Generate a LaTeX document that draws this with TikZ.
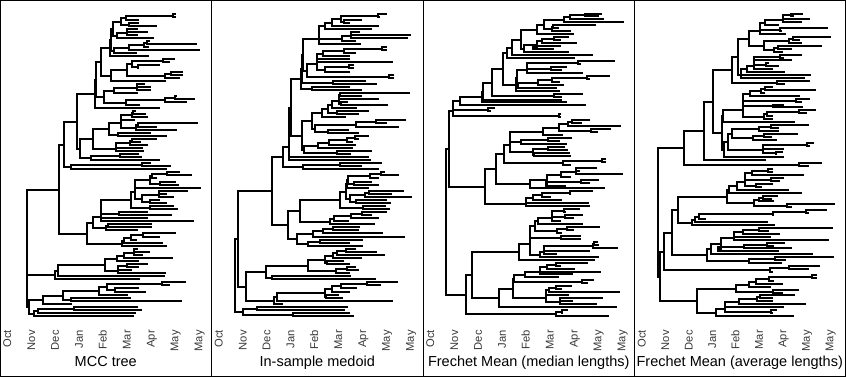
\documentclass[tikz,border=0pt]{standalone}
\usepackage{fontspec}
\setmainfont{Liberation Sans}
\newcount\tipcnt
\newcount\ntips
\def\rsstk{}
\def\rspush#1#2{\xdef\rsstk{{#1}{#2}\unexpanded\expandafter{\rsstk}}}
\def\rspopaux#1#2#3\relax{\gdef\rsy{#1}\gdef\rsx{#2}\gdef\rsstk{#3}}
\def\rspop{\expandafter\rspopaux\rsstk\relax}
\def\rscount#1#2\relax{\if t#1\global\advance\ntips by 1 \fi}
\def\rsproc#1#2\relax{%
  \pgfmathsetmacro\rsxx{round(#2/3+\rsoff)}%
  \if t#1%
    \pgfmathsetmacro\rsyy{round(13.5+\the\tipcnt*\rsstep)}%
    \global\advance\tipcnt by 1 
    \rspush{\rsyy}{\rsxx}%
  \else
    \rspop\let\rsyb\rsy\let\rsxb\rsx
    \rspop\let\rsya\rsy\let\rsxa\rsx
    \pgfmathsetmacro\rsyy{round((\rsya+\rsyb)/2)}%
    \draw[tr] (\rsxa,\rsya) -- (\rsxx,\rsya) -- (\rsxx,\rsyb) -- (\rsxb,\rsyb);
    \rspush{\rsyy}{\rsxx}%
  \fi}
\newcommand\drawtree[2]{%
  \gdef\rsstk{}\global\tipcnt=0 \global\ntips=0 
  \def\rsoff{#1}%
  \foreach \itm in #2 {\expandafter\rscount\itm\relax}%
  \pgfmathsetmacro\rsstep{(316-13.5)/(\the\ntips-1)}%
  \foreach \itm in #2 {\expandafter\rsproc\itm\relax}%
}
\def\treeA{t527,t527,n520,t416,n379,t416,t470,n388,n364,t413,t443,n382,t413,n380,t461,n350,n340,t449,t590,n440,t446,n433,t600,n388,t410,n343,n333,t446,n331,
t524,t509,n490,t479,t418,n413,n395,t548,t548,n514,t541,n496,n382,t497,n333,n304,
t434,t452,n410,t452,n410,t413,n343,t532,t584,n525,t560,n496,t419,n379,n313,n289,t479,n284,
t407,t437,n398,t443,n395,t404,n364,t593,t470,n413,t530,n407,n364,t452,t500,n355,n328,t470,t422,n395,t443,n391,t428,n347,t431,n347,n280,t416,t425,n361,t479,n274,n241,n232,
t452,t512,n427,t500,n214,n193,
t540,t575,n502,t472,n457,t527,t537,n481,n451,t603,n404,t563,t500,n478,t521,n478,t481,t500,n451,n427,n404,t521,t533,n451,n394,t443,t515,n358,n304,t443,n304,t581,n304,t456,t456,n325,t413,n318,n278,t527,t479,n430,t410,n392,t489,n372,t500,n367,n262,n178,
t413,t449,n403,t430,n403,t518,n373,t416,n352,t443,t416,n380,t395,n355,t497,n355,n316,t494,n175,t419,n165,n82,
t557,t509,n487,t416,t437,n346,n322,t383,n298,t392,t545,n214,n190,t215,n130,t413,t425,n222,t407,n115,t401,n103,n88,n82}
\def\treeB{t525,t505,n497,t449,t413,n397,n388,t500,n360,t479,n338,t445,t597,n418,t588,n416,t432,n390,n320,t446,n320,
t525,t525,n511,t431,n395,t413,n334,t413,t542,n316,n316,t425,t425,n412,t413,n340,n316,t545,t545,n532,n284,n273,
t461,t494,n364,n270,t413,t449,n301,n268,
t594,t449,n383,t500,n380,t407,t527,n386,n380,t434,n360,t470,t440,n374,n348,t401,n329,t581,t524,n493,t560,n433,t410,t440,n349,n308,n299,t470,t441,n428,t422,n406,t431,n352,t422,n319,t479,t416,n376,n276,n270,n237,t470,n231,t476,n231,
t509,t449,n385,t500,n273,n212,
t520,t560,n508,t500,n475,t479,t500,n427,n409,t470,n405,t575,t540,n471,t599,n458,t525,t537,n433,n415,n403,t521,t533,n454,n385,t525,t479,n451,t500,n416,t410,n367,t488,n355,n265,t443,t440,n364,t512,n334,t578,n304,t452,t413,n325,t452,n289,n256,n229,n180,
t431,t494,n401,t518,n376,t449,n364,t395,t413,n345,n340,t431,t440,n406,t413,n373,n289,t416,t491,n181,n163,t557,t506,n466,t434,n388,t413,n361,t380,t392,n343,n340,t542,n196,t212,n187,n103,n79,
t407,t398,n136,t413,t425,n244,n94,n70}
\def\treeC{t533,t525,n483,t540,n438,t600,n420,t516,t404,n388,t440,n385,n360,t449,n338,t435,t410,n391,t458,n355,t410,t390,n326,n340,t435,n300,n292,t507,n265,t453,n249,
t573,t470,n463,t428,t415,n380,n308,t477,n308,t557,t497,n490,t408,n383,t420,n343,t400,n281,n279,t408,n276,n236,t477,t414,n390,n205,t415,n178,t428,n175,t485,n108,t212,t200,n193,n86,t410,t410,n406,n86,
t497,t475,n443,t590,n433,t560,t521,n500,n404,t416,n358,t443,t407,n372,t428,n290,n257,t422,t431,n372,t437,t440,n330,n327,n257,
t545,t545,n535,t440,n418,n241,
t518,t467,n457,t596,n455,t440,n412,t524,t497,n470,t425,n365,n370,t542,n319,n217,
t507,t440,n437,t380,n355,t413,n328,t494,n307,t497,n307,n184,n74,
t467,t425,n420,t477,t449,n424,n385,t410,n385,t477,n343,t527,t449,n430,t413,n400,n334,t470,t470,n410,n319,t523,t524,n510,t581,n508,t497,n360,t398,n360,t524,n348,n319,t512,n286,
t491,t410,n395,t452,n370,t530,n348,t446,n348,t404,n303,t509,t493,n475,n270,t443,t413,n397,t588,n376,t434,n367,t537,t446,n407,t518,n407,n367,n268,t578,n226,n145,t431,t416,n415,t554,n397,n127,n67}
\def\treeD{t502,t475,n466,t521,n440,t497,n440,t428,n388,t575,t437,n432,n372,t449,n372,t584,t493,n472,t497,n460,t557,t467,n427,t440,n413,n383,n340,
t497,t445,n432,t467,n355,t400,t428,n390,n355,t410,n355,t446,n334,t524,n316,t506,n316,n306,t521,t446,n424,n287,
t410,t540,n388,t386,n375,t491,n343,t521,t497,n480,n320,t445,t500,n412,n320,t540,t514,n490,t410,n394,t410,n385,n320,t476,n262,t518,t428,n404,t430,n368,t485,t407,n385,t422,n350,n289,t533,t521,n514,t443,n380,t440,t422,n421,n380,n276,t445,n265,n258,n232,t389,n204,t557,t520,n490,n145,
t410,t410,n397,t503,n347,t443,t432,n405,n327,t410,t377,n360,n327,t458,n304,t497,n280,t425,t409,n380,t413,n368,t596,t467,n452,n355,n274,t572,t520,n509,t410,n410,t210,n190,t395,n178,t416,n169,n127,
t590,t398,n370,t431,n322,t404,n294,t578,n294,t446,t413,n392,t467,n325,t428,n247,n254,t530,n226,t593,t449,n418,t437,n340,n214,n108,t553,t518,n460,t410,n403,n85,
t542,t542,n528,t413,n400,t440,n361,t404,n338,t488,t440,n412,n300,t476,t410,n372,t410,n363,t509,n310,t443,n268,t422,t410,n405,n268,t473,n241,n184,n73,n67}
\begin{document}
\begin{tikzpicture}[x=1pt,y=-1pt,
  tr/.style={line width=2pt,line cap=butt,line join=miter,black},
  frame/.style={line width=1pt,black},
  lab/.style={rotate=90,anchor=mid east,inner sep=0pt,text=black!78,font=\fontsize{11.2}{13}\selectfont},
  ttl/.style={anchor=base,inner sep=0pt,text=black,font=\fontsize{14.5}{17}\selectfont}]
\useasboundingbox (0,0) rectangle (846,377);
\draw[frame] (0.5,0.5) rectangle (845,376.5);
\draw[frame] (211.5,0.5) -- (211.5,376.5);
\draw[frame] (423,0.5) -- (423,376.5);
\draw[frame] (634.5,0.5) -- (634.5,376.5);
\drawtree{0}{\treeA}
\drawtree{212}{\treeB}
\drawtree{424}{\treeC}
\drawtree{636}{\treeD}
\foreach \L/\sp [count=\p] in {0/23.9,211.5/23.9,423/23.9,634.5/23.45}{
  \foreach \m [count=\k from 0] in {Oct,Nov,Dec,Jan,Feb,Mar,Apr,May,May}{
    \node[lab] (lab\p-\k) at ({\L+8.5+\k*\sp},330) {\m};
  }
}
\node[ttl] (title1) at (105.75,366.5) {MCC tree};
\node[ttl] (title2) at (317.25,366.5) {In-sample medoid};
\node[ttl] (title3) at (528.75,366.5) {Frechet Mean (median lengths)};
\node[ttl] (title4) at (739.75,366.5) {Frechet Mean (average lengths)};
\end{tikzpicture}
\end{document}
